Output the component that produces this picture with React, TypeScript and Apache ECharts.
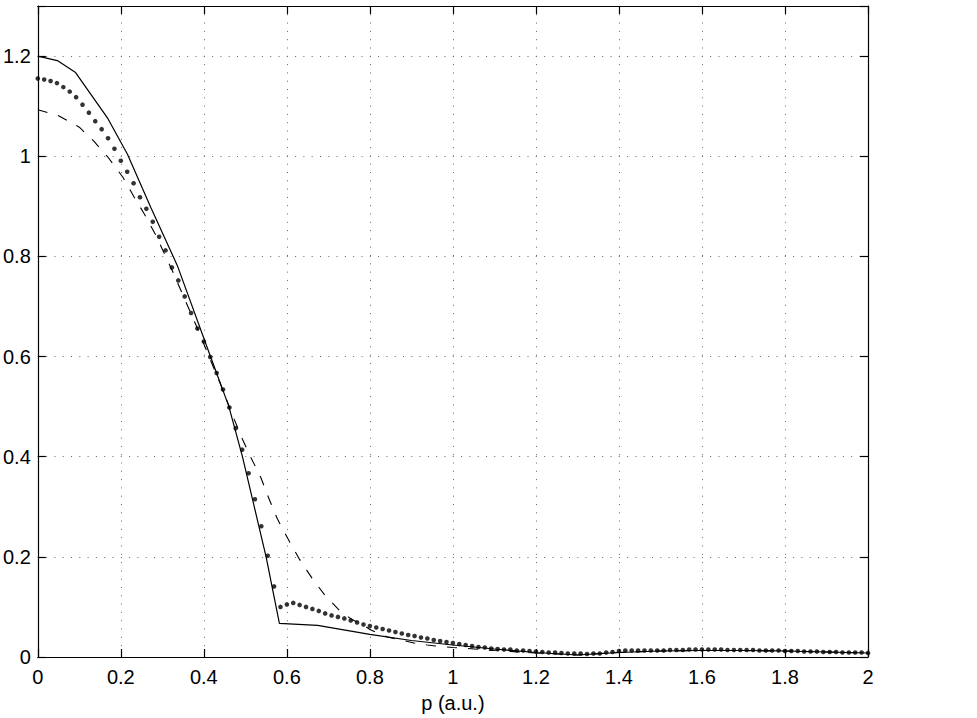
import { useEffect, useRef } from "react";
import * as echarts from "echarts";

// x-axis: momentum p (a.u.), y-axis: profile value
const X_MIN = 0;
const X_MAX = 2;
const X_STEP = 0.2;
const Y_MIN = 0;
const Y_MAX = 1.3;
const Y_STEP = 0.2;
const X_LABEL = "p (a.u.)";

// solid curve vertices [p, value]
const solidData: [number, number][] = [
  [0, 1.2], [0.047, 1.191], [0.091, 1.167], [0.169, 1.075], [0.216, 1.004],
  [0.272, 0.898], [0.336, 0.782], [0.416, 0.6], [0.46, 0.501], [0.493, 0.4],
  [0.55, 0.2], [0.582, 0.067], [0.674, 0.063], [0.8, 0.045], [0.9, 0.033],
  [1.0, 0.024], [1.1, 0.016], [1.2, 0.009], [1.3, 0.004], [1.4, 0.009],
  [1.5, 0.012], [1.6, 0.013], [1.7, 0.013], [1.8, 0.012], [1.9, 0.01], [2.0, 0.008],
];

// dashed curve vertices [p, value]
const dashedData: [number, number][] = [
  [0, 1.093], [0.05, 1.081], [0.1, 1.058], [0.135, 1.03], [0.17, 0.997],
  [0.205, 0.958], [0.231, 0.92], [0.257, 0.884], [0.284, 0.843], [0.327, 0.766],
  [0.351, 0.72], [0.38, 0.665], [0.41, 0.605], [0.44, 0.545], [0.473, 0.475],
  [0.493, 0.435], [0.513, 0.399], [0.537, 0.359], [0.557, 0.316], [0.577, 0.276],
  [0.602, 0.237], [0.629, 0.197], [0.661, 0.157], [0.691, 0.124], [0.729, 0.091],
  [0.757, 0.075], [0.786, 0.063], [0.8, 0.055], [0.826, 0.045], [0.842, 0.04],
  [0.886, 0.032], [0.906, 0.028], [0.938, 0.024], [0.958, 0.022], [1.0, 0.019],
  [1.1, 0.013], [1.2, 0.008], [1.3, 0.004], [1.4, 0.009], [1.5, 0.012],
  [1.6, 0.013], [1.7, 0.013], [1.8, 0.012], [1.9, 0.01], [2.0, 0.008],
];

// dotted curve: sampled on a uniform p grid (131 samples from 0 to 2)
const DOT_STEP = 2 / 130;
const dottedValues: number[] = [
  1.155, 1.153, 1.15, 1.146, 1.138, 1.129, 1.118, 1.103, 1.087, 1.07,
  1.054, 1.036, 1.015, 0.991, 0.969, 0.946, 0.918, 0.895, 0.869, 0.839,
  0.812, 0.778, 0.752, 0.72, 0.687, 0.656, 0.63, 0.599, 0.567, 0.534,
  0.498, 0.457, 0.414, 0.367, 0.315, 0.261, 0.202, 0.141, 0.1, 0.105,
  0.108, 0.104, 0.1, 0.096, 0.092, 0.087, 0.083, 0.08, 0.077, 0.073,
  0.069, 0.065, 0.062, 0.059, 0.056, 0.053, 0.05, 0.047, 0.044, 0.042,
  0.039, 0.037, 0.034, 0.032, 0.03, 0.028, 0.026, 0.024, 0.022, 0.02,
  0.019, 0.017, 0.016, 0.015, 0.015, 0.013, 0.013, 0.012, 0.011, 0.01,
  0.009, 0.009, 0.008, 0.007, 0.007, 0.007, 0.006, 0.007, 0.007, 0.009,
  0.01, 0.012, 0.013, 0.013, 0.013, 0.013, 0.013, 0.013, 0.013, 0.014,
  0.014, 0.014, 0.015, 0.015, 0.015, 0.015, 0.015, 0.015, 0.014, 0.014,
  0.014, 0.014, 0.014, 0.013, 0.013, 0.013, 0.013, 0.012, 0.012, 0.012,
  0.011, 0.011, 0.011, 0.01, 0.01, 0.01, 0.009, 0.009, 0.009, 0.009,
  0.008,
];

const FONT = "'Liberation Sans', Arial, Helvetica, sans-serif";

export default function App() {
  const ref = useRef<HTMLDivElement>(null);

  useEffect(() => {
    if (!ref.current) return;
    const chart = echarts.init(ref.current, undefined, { renderer: "svg" });
    const dotted = dottedValues.map((v, i) => [i * DOT_STEP, v]);

    const isTick = (v: number, step: number) =>
      Math.abs(v / step - Math.round(v / step)) < 1e-6;

    const baseAxisLine = { show: true, onZero: false, lineStyle: { color: "#000", width: 1.2 } };
    const tick = { show: true, inside: true, length: 8, lineStyle: { color: "#000", width: 1.2 } };
    const grid = {
      show: true,
      lineStyle: { color: "#666", width: 1, type: [1, 7.3] as number[] },
    };

    chart.setOption({
      animation: false,
      backgroundColor: "#fff",
      grid: { left: 37, top: 6, right: 109, bottom: 57, containLabel: false },
      xAxis: [
        {
          type: "value",
          position: "bottom",
          min: X_MIN,
          max: X_MAX,
          interval: X_STEP,
          axisLine: baseAxisLine,
          axisTick: tick,
          splitLine: grid,
          axisLabel: {
            color: "#000",
            fontSize: 20,
            fontFamily: FONT,
            margin: 10,
            formatter: (v: number) => String(Math.round(v * 10) / 10),
          },
          name: X_LABEL,
          nameLocation: "middle",
          nameGap: 36,
          nameTextStyle: { color: "#000", fontSize: 20, fontFamily: FONT },
        },
        {
          type: "value",
          position: "top",
          min: X_MIN,
          max: X_MAX,
          interval: X_STEP,
          axisLine: baseAxisLine,
          axisTick: tick,
          splitLine: { show: false },
          axisLabel: { show: false },
        },
      ],
      yAxis: [
        {
          type: "value",
          position: "left",
          min: Y_MIN,
          max: Y_MAX,
          interval: Y_STEP,
          axisLine: baseAxisLine,
          axisTick: tick,
          splitLine: grid,
          axisLabel: {
            color: "#000",
            fontSize: 20,
            fontFamily: FONT,
            margin: 7,
            formatter: (v: number) =>
              isTick(v, Y_STEP) ? String(Math.round(v * 10) / 10) : "",
          },
        },
        {
          type: "value",
          position: "right",
          min: Y_MIN,
          max: Y_MAX,
          interval: Y_STEP,
          axisLine: baseAxisLine,
          axisTick: tick,
          splitLine: { show: false },
          axisLabel: { show: false },
        },
      ],
      series: [
        {
          name: "solid",
          type: "line",
          data: solidData,
          symbol: "none",
          lineStyle: { color: "#000", width: 1.2 },
          z: 3,
        },
        {
          name: "dashed",
          type: "line",
          data: dashedData,
          symbol: "none",
          lineStyle: { color: "#000", width: 1.1, type: [10, 11] },
          z: 3,
        },
        {
          name: "dotted",
          type: "scatter",
          data: dotted,
          symbol: "circle",
          symbolSize: 4.6,
          itemStyle: { color: "#000" },
          z: 4,
        },
      ],
    });

    return () => chart.dispose();
  }, []);

  return (
    <div
      ref={ref}
      style={{ position: "absolute", left: 0, top: 0, width: 977, height: 718 }}
    />
  );
}
